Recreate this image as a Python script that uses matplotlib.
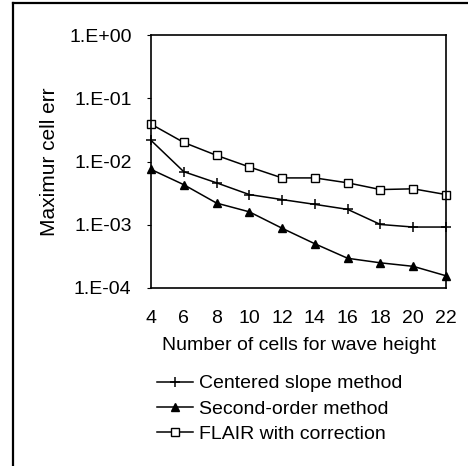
import matplotlib
matplotlib.use("Agg")
import matplotlib.pyplot as plt
from matplotlib.lines import Line2D
from matplotlib.ticker import FixedLocator, FixedFormatter, NullLocator

plt.rcParams['font.family'] = ['Liberation Sans', 'DejaVu Sans']

cells = [4, 6, 8, 10, 12, 14, 16, 18, 20, 22]
centered = [0.0216, 0.0069, 0.0046, 0.0030, 0.0025, 0.0021, 0.00175, 0.00101, 0.00092, 0.00092]
second_order = [0.0075, 0.0043, 0.0022, 0.0016, 0.00088, 0.0005, 0.000295, 0.00025, 0.00022, 0.000156]
flair = [0.039, 0.020, 0.0125, 0.0082, 0.0055, 0.0055, 0.0046, 0.0036, 0.0037, 0.0030]
series_labels = ["Centered slope method", "Second-order method", "FLAIR with correction"]
ytick_vals = [1e0, 1e-1, 1e-2, 1e-3, 1e-4]
ytick_labels = ["1.E+00", "1.E-01", "1.E-02", "1.E-03", "1.E-04"]

fig = plt.figure(figsize=(4.68, 4.66), dpi=100)
ax = fig.add_axes([151/468, 1-288/466, 295/468, 253/466])

lw = 1.1
l1, = ax.plot(cells, centered, color='black', lw=lw, marker='+', ms=7, mew=1.1,
              label=series_labels[0], clip_on=False)
l2, = ax.plot(cells, second_order, color='black', lw=lw, marker='^', ms=6,
              label=series_labels[1], clip_on=False)
l3, = ax.plot(cells, flair, color='black', lw=lw, marker='s', ms=6, mfc='white', mew=1.0,
              label=series_labels[2], clip_on=False)

ax.set_yscale('log')
ax.set_ylim(1e-4, 1e0)
ax.set_xlim(4, 22)
ax.yaxis.set_major_locator(FixedLocator(ytick_vals))
ax.yaxis.set_major_formatter(FixedFormatter(ytick_labels))
ax.yaxis.set_minor_locator(NullLocator())
ax.set_xticks(cells)
ax.set_xticklabels([str(c) for c in cells])
ax.tick_params(axis='y', length=3, width=0.8, pad=11, labelsize=14)
ax.tick_params(axis='x', length=0, pad=16, labelsize=14)
for s in ax.spines.values():
    s.set_linewidth(1.2)

ax.set_ylabel("Maximur cell err", fontsize=15, labelpad=7)
ax.set_xlabel("Number of cells for wave height", fontsize=14, labelpad=7)

fig.legend(handles=[l1, l2, l3], labels=series_labels, loc='center left',
           bbox_to_anchor=(157/468, 1-409/466), frameon=False, fontsize=14,
           handlelength=1.85, handletextpad=0.3, labelspacing=0.4,
           borderpad=0, borderaxespad=0)

# outer frame of the figure
fig.add_artist(Line2D([13/468, 13/468], [0, 1-3/466], transform=fig.transFigure,
                      color='black', lw=1.6))
fig.add_artist(Line2D([13/468, 1], [1-3/466, 1-3/466], transform=fig.transFigure,
                      color='black', lw=1.6))

fig.savefig("out.png", dpi=100)
